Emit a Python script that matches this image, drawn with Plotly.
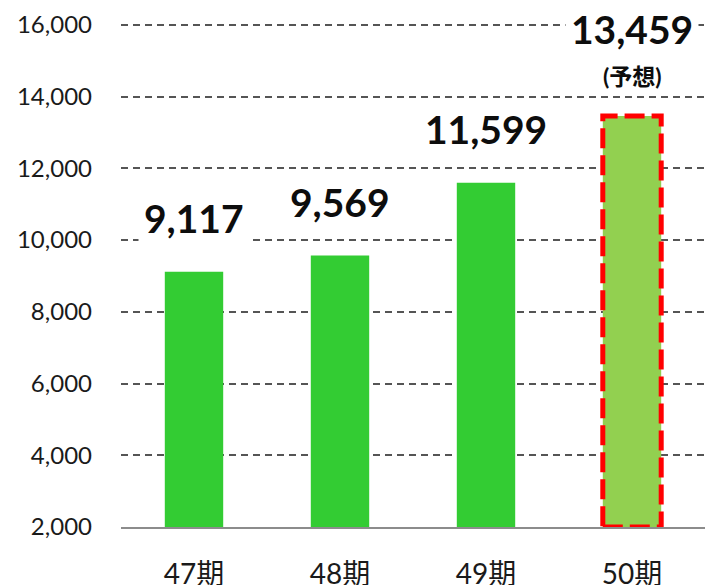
import plotly.graph_objects as go

categories = ["47期", "48期", "49期", "50期"]
values = [9117, 9569, 11599, 13459]
bar_colors = ["#33CC33", "#33CC33", "#33CC33", "#92D050"]
value_labels = ["9,117", "9,569", "11,599", "13,459"]
forecast_note = "(予想)"
y_ticks = [2000, 4000, 6000, 8000, 10000, 12000, 14000, 16000]
y_min, y_max = 2000, 16000
bar_width = 0.4

FONT = "Lato, 'Noto Sans CJK JP', sans-serif"

fig = go.Figure()
fig.add_trace(go.Bar(
    x=categories, y=values,
    marker=dict(color=bar_colors, line=dict(width=0)),
    width=[bar_width] * len(values),
    hoverinfo="skip",
))

annotations = []
for i, (c, v, lab) in enumerate(zip(categories, values, value_labels)):
    last = (i == len(values) - 1)
    annotations.append(dict(
        x=c, y=v, xref="x", yref="y",
        text="<b>" + lab + "</b>",
        showarrow=False, yanchor="middle", xanchor="center",
        yshift=87 if last else 54,
        font=dict(family=FONT, size=39, color="#0d0d0d"),
        bgcolor="white", borderpad=5,
    ))
    if last:
        annotations.append(dict(
            x=c, y=v, xref="x", yref="y",
            text="<b>" + forecast_note + "</b>",
            showarrow=False, yanchor="middle", xanchor="center",
            yshift=40,
            font=dict(family=FONT, size=23, color="#0d0d0d"),
            bgcolor="white", borderpad=2,
        ))

# red dashed frame around the forecast bar
fi = len(values) - 1
shapes = [dict(
    type="rect", xref="x", yref="y",
    x0=fi - bar_width / 2, x1=fi + bar_width / 2,
    y0=y_min, y1=values[fi],
    line=dict(color="#FF0000", width=5, dash="20px,7px"),
    fillcolor="rgba(0,0,0,0)", layer="above",
)]

# small headroom so the top grid line is not clipped at the plot edge
headroom = 108

fig.update_layout(
    width=705, height=585,
    margin=dict(l=121, r=0, t=21, b=58, autoexpand=False),
    paper_bgcolor="white", plot_bgcolor="white",
    showlegend=False,
    annotations=annotations,
    shapes=shapes,
    font=dict(family=FONT, color="#1a1a1a"),
    xaxis=dict(
        type="category", range=[-0.5, len(categories) - 0.5],
        showline=True, linecolor="#8c8c8c", linewidth=2,
        ticks="", showgrid=False, zeroline=False, automargin=False,
        tickfont=dict(family=FONT, size=28, color="#1a1a1a"),
        ticklabelstandoff=21,
    ),
    yaxis=dict(
        range=[y_min, y_max + headroom], tickvals=y_ticks, tickformat=",d",
        showgrid=True, gridcolor="#555555", gridwidth=2, griddash="7px,5px",
        showline=False, zeroline=False, ticks="", automargin=False,
        tickfont=dict(family=FONT, size=24, color="#1a1a1a"),
        ticklabelstandoff=28,
    ),
)

fig.write_html(
    "out.html",
    config={"displayModeBar": False},
    post_script="document.body.style.margin='0';document.body.style.overflow='hidden';",
)
